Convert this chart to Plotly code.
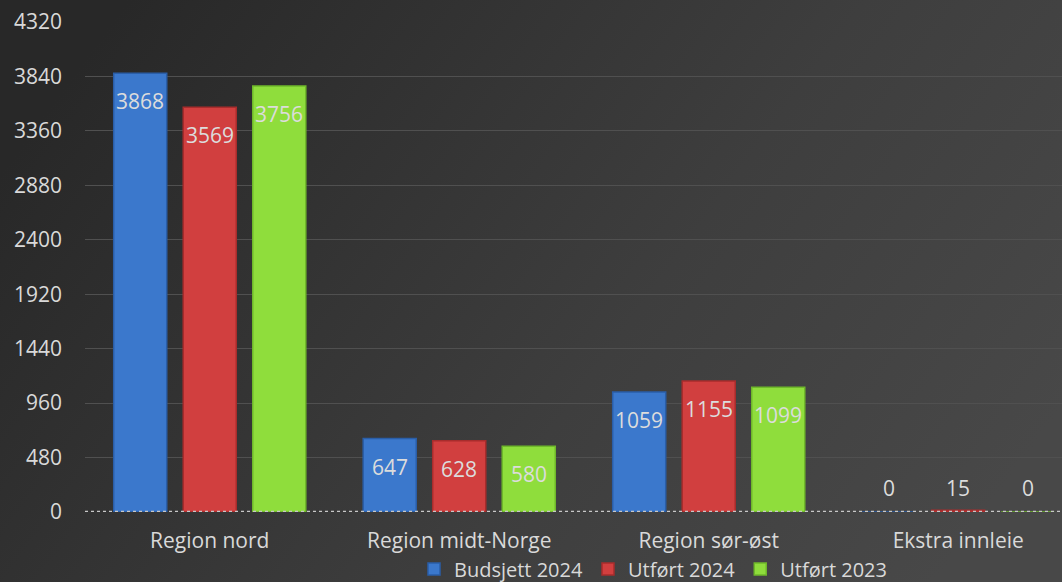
import base64
import plotly.graph_objects as go

categories = ["Region nord", "Region midt-Norge", "Region sør-øst", "Ekstra innleie"]
budsjett_2024 = [3868, 647, 1059, 0]
utfort_2024 = [3569, 628, 1155, 15]
utfort_2023 = [3756, 580, 1099, 0]
y_ticks = [0, 480, 960, 1440, 1920, 2400, 2880, 3360, 3840, 4320]

series = [
    ("Budsjett 2024", budsjett_2024, "#3b78cc", "#2a5ea8"),
    ("Utført 2024", utfort_2024, "#d13f3f", "#a82c2c"),
    ("Utført 2023", utfort_2023, "#8fdd3c", "#6fb82a"),
]

W, H = 1062, 582
L, R, T, B = 85, 0, 22, 70
pw, ph = W - L - R, H - T - B
FONT = "Open Sans"
TXT = "#d9d9d9"

svg = f'''<svg xmlns="http://www.w3.org/2000/svg" width="{W}" height="{H}">
<defs><linearGradient id="g" x1="0" y1="0.3" x2="1" y2="0.7">
<stop offset="0" stop-color="#282828"/><stop offset="0.6" stop-color="#3e3e3e"/><stop offset="1" stop-color="#484848"/>
</linearGradient></defs><rect width="{W}" height="{H}" fill="url(#g)"/></svg>'''
bg = "data:image/svg+xml;base64," + base64.b64encode(svg.encode()).decode()

fig = go.Figure()
offsets = [-69.5, 0, 69.5]
annotations = []
for (name, vals, color, line), dx in zip(series, offsets):
    fig.add_trace(go.Bar(
        x=categories, y=vals, name=name,
        marker=dict(color=color, line=dict(color=line, width=1.5)),
        textposition="none",
    ))
    for cat, v in zip(categories, vals):
        big = v > 300
        annotations.append(dict(
            x=cat, y=v, xref="x", yref="y", text=str(v), showarrow=False,
            xshift=dx, yshift=-28 if big else 22 + (2 if v == 0 else 0),
            yanchor="middle", xanchor="center",
            font=dict(family=FONT, size=21, color="#dcdcdc"),
        ))

fig.add_shape(type="line", xref="paper", yref="y", x0=0, x1=1, y0=0, y1=0,
              line=dict(color="#c8c8c8", width=2.5, dash="dot"), layer="above")

fig.update_layout(
    width=W, height=H,
    margin=dict(l=L, r=R, t=T, b=B, autoexpand=False),
    paper_bgcolor="#333333", plot_bgcolor="rgba(0,0,0,0)",
    images=[dict(source=bg, xref="paper", yref="paper",
                 x=-L / pw, y=1 + T / ph, sizex=W / pw, sizey=H / ph,
                 xanchor="left", yanchor="top", sizing="stretch", layer="below")],
    barmode="group", bargap=0.164, bargroupgap=0.237,
    font=dict(family=FONT, size=21, color=TXT),
    annotations=annotations,
    xaxis=dict(range=[-0.5, 3.416], showgrid=False, zeroline=False, showline=False,
               ticks="", ticklabelstandoff=14, tickfont=dict(size=21, color=TXT)),
    yaxis=dict(range=[0, 4320], tickvals=y_ticks, showgrid=True, gridcolor="#505050",
               gridwidth=1, zeroline=False, showline=False, ticks="",
               ticklabelstandoff=22, tickfont=dict(size=21, color=TXT)),
    legend=dict(orientation="h", x=(414 - L) / pw, xanchor="left",
                y=-(569 - 512) / ph, yanchor="middle",
                font=dict(size=20, color=TXT), itemwidth=30,
                bgcolor="rgba(0,0,0,0)", traceorder="normal"),
    showlegend=True,
)

fig.write_html("out.html", config={"displayModeBar": False},
               post_script="document.body.style.margin='0';")
